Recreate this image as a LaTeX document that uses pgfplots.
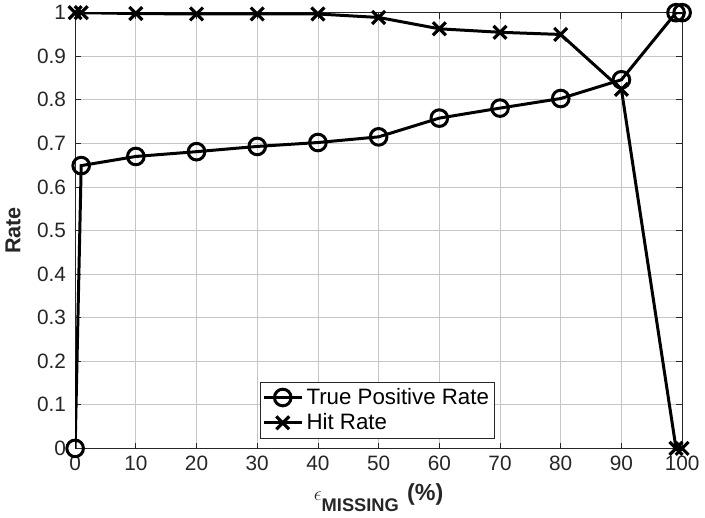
\documentclass[border=0pt]{standalone}
\usepackage{pgfplots}
\pgfplotsset{compat=1.18}
\usepackage{fontspec}
\setmainfont{Liberation Sans}
\definecolor{axgray}{rgb}{0.15,0.15,0.15}
\begin{document}
\begin{tikzpicture}
\begin{axis}[
  scale only axis,
  width=365pt, height=262pt,
  xmin=0, xmax=100, ymin=0, ymax=1,
  xtick={0,10,...,100},
  ytick={0,0.1,...,1},
  yticklabels={0,0.1,0.2,0.3,0.4,0.5,0.6,0.7,0.8,0.9,1},
  grid=major,
  major grid style={gray!45, line width=0.4pt},
  axis line style={axgray, line width=0.5pt},
  tick align=inside,
  major tick length=3.5pt,
  tick style={axgray, line width=0.5pt},
  tick label style={font=\fontsize{12.5}{14}\selectfont, text=axgray},
  /pgf/number format/assume math mode=true,
  xticklabel style={yshift=-1pt},
  yticklabel style={xshift=-2pt},
  xlabel={\textbf{$\epsilon$\raisebox{-6.5pt}{\fontsize{11}{13}\selectfont MISSING}\hspace{5pt}{\fontsize{14}{16}\selectfont(\%)}}},
  ylabel={\textbf{Rate}},
  label style={font=\fontsize{13}{15}\selectfont, text=axgray},
  xlabel style={yshift=-1pt},
  ylabel style={yshift=3pt},
  legend style={at={(0.305,0.023)}, anchor=south west,
    font=\fontsize{13.4}{15}\selectfont, draw=axgray, line width=0.5pt,
    inner xsep=1pt, inner ysep=1.5pt, row sep=0pt, text=black},
  legend cell align=left,
  legend image code/.code={
    \draw[mark repeat=2, mark phase=2, #1] plot coordinates {(0cm,0cm) (0.4cm,0cm) (0.8cm,0cm)};
  },
  every axis plot/.append style={line width=1.8pt},
]
\addplot[black, mark=o, mark size=5pt, mark options={fill=white, line width=1.8pt}]
coordinates {
  (0,0) (1,0.649) (10,0.670) (20,0.681) (30,0.693) (40,0.702) (50,0.715)
  (60,0.758) (70,0.781) (80,0.803) (90,0.846) (99,1.0) (100,1.0)
};
\addlegendentry{True Positive Rate}
\addplot[black, mark=x, mark size=5.5pt, mark options={line width=1.9pt}]
coordinates {
  (0,1.0) (1,1.0) (10,0.998) (20,0.997) (30,0.997) (40,0.997) (50,0.989)
  (60,0.963) (70,0.955) (80,0.950) (90,0.824) (99,0.0) (100,0.0)
};
\addlegendentry{Hit Rate}
\end{axis}
\end{tikzpicture}
\end{document}
